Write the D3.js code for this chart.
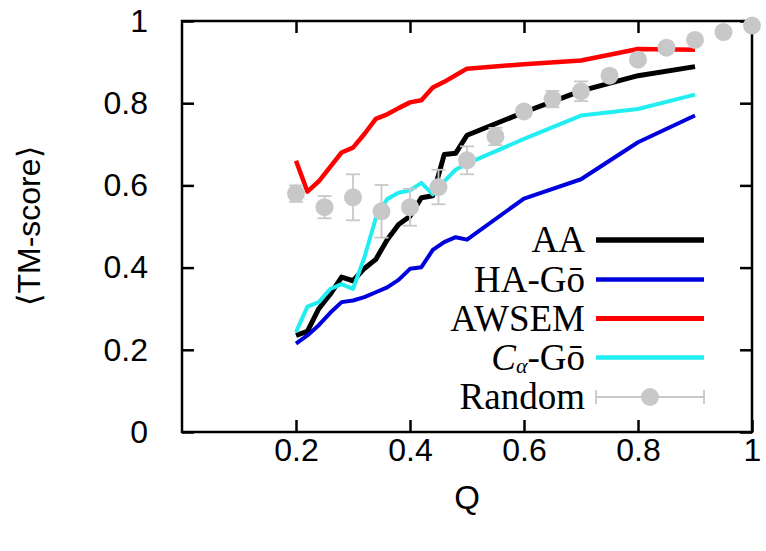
<!DOCTYPE html>
<html>
<head>
<meta charset="utf-8">
<script src="https://cdn.jsdelivr.net/npm/d3@7"></script>
<style>
  body { margin: 0; background: #fff; }
  svg { display: block; }
</style>
</head>
<body>
<div id="chart"></div>
<script>
// Q grid shared by the four simulation curves
var qLine = [0.20, 0.22, 0.24, 0.26, 0.28, 0.30, 0.32, 0.34, 0.36, 0.38,
             0.40, 0.42, 0.44, 0.46, 0.48, 0.50, 0.60, 0.70, 0.80, 0.90];

var aa    = [0.235, 0.245, 0.300, 0.335, 0.377, 0.368, 0.398, 0.420, 0.468, 0.505,
             0.525, 0.570, 0.575, 0.675, 0.678, 0.722, 0.778, 0.830, 0.867, 0.889];
var haGo  = [0.215, 0.235, 0.260, 0.290, 0.316, 0.320, 0.328, 0.340, 0.352, 0.370,
             0.397, 0.401, 0.443, 0.462, 0.474, 0.468, 0.568, 0.615, 0.705, 0.770];
var awsem = [0.660, 0.585, 0.610, 0.645, 0.680, 0.692, 0.725, 0.762, 0.773, 0.788,
             0.802, 0.807, 0.838, 0.852, 0.868, 0.884, 0.895, 0.904, 0.932, 0.930];
var caGo  = [0.243, 0.305, 0.316, 0.348, 0.360, 0.348, 0.425, 0.520, 0.567, 0.582,
             0.588, 0.606, 0.578, 0.610, 0.638, 0.653, 0.713, 0.770, 0.786, 0.821];

// random reference, with error bars
var qRand   = [0.20, 0.25, 0.30, 0.35, 0.40, 0.45, 0.50, 0.55, 0.60,
               0.65, 0.70, 0.75, 0.80, 0.85, 0.90, 0.95, 1.00];
var randVal = [0.580, 0.547, 0.571, 0.537, 0.547, 0.596, 0.661, 0.719, 0.780,
               0.810, 0.829, 0.867, 0.906, 0.935, 0.954, 0.973, 0.989];
var randErr = [0.020, 0.027, 0.056, 0.064, 0.045, 0.042, 0.034, 0.021, 0.012,
               0.020, 0.024, 0.008, 0.006, 0.004, 0.003, 0.002, 0.001];

var xTicks = [0.2, 0.4, 0.6, 0.8, 1];
var yTicks = [0, 0.2, 0.4, 0.6, 0.8, 1];

var W = 766, H = 551;
var margin = {left: 182, right: 14, top: 21, bottom: 119};
var grey = '#c8c8c8';

var svg = d3.select('#chart').append('svg')
  .attr('width', W)
  .attr('height', H);

var x = d3.scaleLinear().domain([0, 1]).range([margin.left, W - margin.right]);
var y = d3.scaleLinear().domain([0, 1]).range([H - margin.bottom, margin.top]);

var tickFont = '"Liberation Sans", Arial, Helvetica, sans-serif';
var legendFont = '"Liberation Serif", "Times New Roman", serif';

// axes, ticks point inwards and are mirrored on top / right
function styleAxis (g) {
  g.select('.domain').remove();
  g.selectAll('.tick line').attr('stroke', '#000').attr('stroke-width', 2.5);
  g.selectAll('.tick text')
    .attr('fill', '#000')
    .style('font-family', tickFont)
    .style('font-size', '32px');
}

svg.append('g')
  .attr('transform', 'translate(0,' + y(0) + ')')
  .call(d3.axisBottom(x).tickValues(xTicks).tickSize(-12).tickPadding(6).tickFormat(d3.format('')))
  .call(styleAxis);
svg.append('g')
  .attr('transform', 'translate(0,' + y(1) + ')')
  .call(d3.axisTop(x).tickValues(xTicks).tickSize(-12).tickFormat(''))
  .call(styleAxis);
svg.append('g')
  .attr('transform', 'translate(' + x(0) + ',0)')
  .call(d3.axisLeft(y).tickValues(yTicks).tickSize(-12).tickPadding(34).tickFormat(d3.format('')))
  .call(styleAxis);
svg.append('g')
  .attr('transform', 'translate(' + x(1) + ',0)')
  .call(d3.axisRight(y).tickValues(yTicks).tickSize(-12).tickFormat(''))
  .call(styleAxis);

// frame
svg.append('rect')
  .attr('x', x(0))
  .attr('y', y(1))
  .attr('width', x(1) - x(0))
  .attr('height', y(0) - y(1))
  .attr('fill', 'none')
  .attr('stroke', '#000')
  .attr('stroke-width', 2.5);

// axis titles
svg.append('text')
  .attr('x', x(0.5))
  .attr('y', 509)
  .attr('text-anchor', 'middle')
  .style('font-family', tickFont)
  .style('font-size', '33px')
  .text('Q');

svg.append('text')
  .attr('transform', 'translate(40,' + 226 + ') rotate(-90)')
  .attr('text-anchor', 'middle')
  .style('font-family', tickFont)
  .style('font-size', '32px')
  .text('\u27E8TM-score\u27E9');

// curves
var series = [
  {name: 'AA', values: aa, color: '#000000', width: 5},
  {name: 'HA-Go', values: haGo, color: '#0000dd', width: 4},
  {name: 'AWSEM', values: awsem, color: '#ff0000', width: 4.5},
  {name: 'CaGo', values: caGo, color: '#22eef2', width: 4}
];

var line = d3.line()
  .x(function (d, i) { return x(qLine[i]); })
  .y(function (d) { return y(d); });

svg.append('g').selectAll('path')
  .data(series)
  .enter()
  .append('path')
  .attr('d', function (s) { return line(s.values); })
  .attr('fill', 'none')
  .attr('stroke', function (s) { return s.color; })
  .attr('stroke-width', function (s) { return s.width; })
  .attr('stroke-linejoin', 'round');

// random: error bars then points
var rand = qRand.map(function (q, i) {
  return {q: q, v: randVal[i], e: randErr[i]};
});

var eb = svg.append('g')
  .attr('stroke', grey)
  .attr('stroke-width', 1.8);
eb.selectAll('.bar')
  .data(rand)
  .enter()
  .append('line')
  .attr('x1', function (d) { return x(d.q); })
  .attr('x2', function (d) { return x(d.q); })
  .attr('y1', function (d) { return y(d.v - d.e); })
  .attr('y2', function (d) { return y(d.v + d.e); });
eb.selectAll('.capLo')
  .data(rand)
  .enter()
  .append('line')
  .attr('x1', function (d) { return x(d.q) - 7; })
  .attr('x2', function (d) { return x(d.q) + 7; })
  .attr('y1', function (d) { return y(d.v - d.e); })
  .attr('y2', function (d) { return y(d.v - d.e); });
eb.selectAll('.capHi')
  .data(rand)
  .enter()
  .append('line')
  .attr('x1', function (d) { return x(d.q) - 7; })
  .attr('x2', function (d) { return x(d.q) + 7; })
  .attr('y1', function (d) { return y(d.v + d.e); })
  .attr('y2', function (d) { return y(d.v + d.e); });

svg.append('g').selectAll('circle')
  .data(rand)
  .enter()
  .append('circle')
  .attr('cx', function (d) { return x(d.q); })
  .attr('cy', function (d) { return y(d.v); })
  .attr('r', 9)
  .attr('fill', grey);

// legend
var lg = svg.append('g');
var rowY = [240, 279.5, 318.5, 357.5, 397];
var textX = 585, sx1 = 596, sx2 = 704;

series.forEach(function (s, i) {
  lg.append('line')
    .attr('x1', sx1).attr('x2', sx2)
    .attr('y1', rowY[i]).attr('y2', rowY[i])
    .attr('stroke', s.color)
    .attr('stroke-width', s.width + 0.5);
});

function legendText (i) {
  return lg.append('text')
    .attr('x', textX)
    .attr('y', rowY[i] + 12)
    .attr('text-anchor', 'end')
    .style('font-family', legendFont)
    .style('font-size', '37px')
    .attr('fill', '#000');
}

legendText(0).text('AA');
legendText(1).text('HA-G\u014D');
legendText(2).text('AWSEM');
var ca = legendText(3);
ca.append('tspan').style('font-style', 'italic').text('C');
ca.append('tspan').style('font-style', 'italic').style('font-size', '22px').attr('dy', 3).text('\u03B1');
ca.append('tspan').attr('dy', -3).text('-G\u014D');
legendText(4).text('Random');

lg.append('line')
  .attr('x1', sx1).attr('x2', sx2)
  .attr('y1', rowY[4]).attr('y2', rowY[4])
  .attr('stroke', grey).attr('stroke-width', 1.8);
[sx1, sx2].forEach(function (cx) {
  lg.append('line')
    .attr('x1', cx).attr('x2', cx)
    .attr('y1', rowY[4] - 7).attr('y2', rowY[4] + 7)
    .attr('stroke', grey).attr('stroke-width', 1.8);
});
lg.append('circle')
  .attr('cx', (sx1 + sx2) / 2 )
  .attr('cy', rowY[4])
  .attr('r', 9)
  .attr('fill', grey);
</script>
</body>
</html>
